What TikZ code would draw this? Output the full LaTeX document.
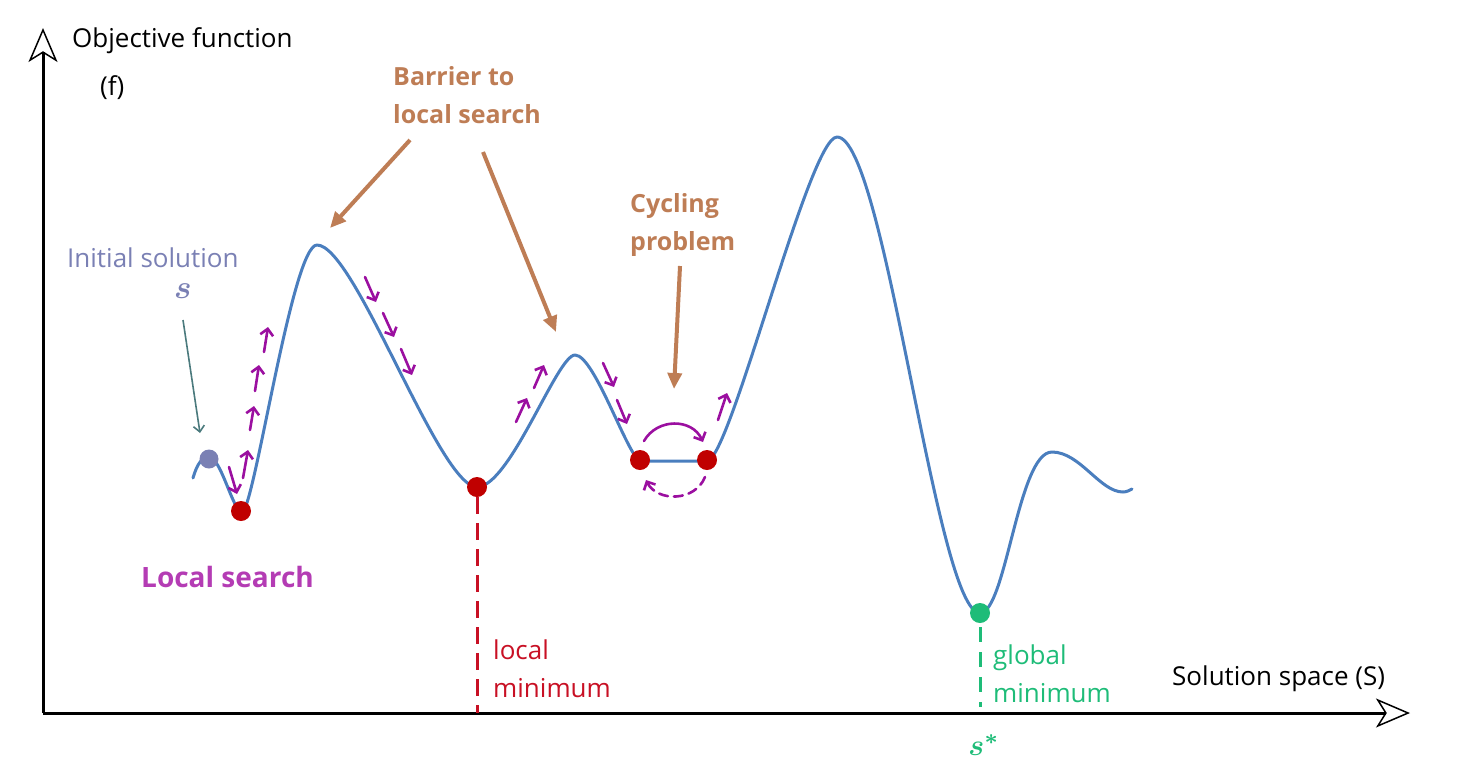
\documentclass[tikz,border=0pt]{standalone}
\usepackage{fontspec}
\setmainfont{Open Sans}
\usepackage{bm}
\usetikzlibrary{arrows.meta}
\definecolor{curveblue}{RGB}{74,126,190}
\definecolor{dotred}{RGB}{192,0,0}
\definecolor{txtred}{RGB}{200,16,36}
\definecolor{gmin}{RGB}{30,188,120}
\definecolor{brownish}{RGB}{190,125,85}
\definecolor{lspurple}{RGB}{155,15,160}
\definecolor{lstext}{RGB}{180,60,180}
\definecolor{initc}{RGB}{122,128,180}
\definecolor{initarrow}{RGB}{75,122,125}
\tikzset{
  curve/.style={line width=3pt, draw=curveblue, line cap=round, line join=round},
  dot/.style={circle, fill=#1, minimum size=20pt, inner sep=0pt},
  axis/.style={line width=3pt, -{Stealth[open, length=34pt, width=29pt, inset=9pt, line width=1.5pt]}},
  regtxt/.style={font=\fontsize{26}{38}\selectfont, inner sep=0pt, anchor=base west, align=left},
  boldtxt/.style={font=\fontsize{25}{38}\selectfont\bfseries, inner sep=0pt, align=left},
  mathlab/.style={inner sep=0pt, anchor=base},
  barrier/.style={draw=brownish, line width=4pt, -{Triangle[length=16pt, width=14pt]}},
  lsarrow/.style={draw=lspurple, line width=2.6pt, line cap=round, -{Straight Barb[length=6.5pt, width=13pt]}},
  reddash/.style={draw=txtred, line width=3pt, dash pattern=on 17pt off 9pt},
  greendash/.style={draw=gmin, line width=3pt, dash pattern=on 15pt off 10pt},
}
\begin{document}
\begin{tikzpicture}[x=1pt, y=-1pt]
\useasboundingbox (0,0) rectangle (1477,780);
% axes
\coordinate (O) at (43,713);
\coordinate (ytip) at (43,28);
\coordinate (xtip) at (1410,713);
\draw[axis] (O) -- (ytip);
\draw[axis] (O) -- (xtip);
\node[regtxt] (ylab) at (72,47) {Objective function};
\node[regtxt] (flab) at (100,95) {(f)};
\node[regtxt] (xlab) at (1172,685) {Solution space (S)};
% landscape
\draw[curve] (193,478) .. controls (197,464) and (202,457) .. (209,457)
  .. controls (221,457) and (233,512) .. (242,512)
  .. controls (254,512) and (292,245) .. (317,245)
  .. controls (355,245) and (439,487) .. (477,487)
  .. controls (510,487) and (557,355) .. (575,355)
  .. controls (595,355) and (629,461) .. (641,461)
  -- (707,461)
  .. controls (730,461) and (809,137) .. (837,137)
  .. controls (885,137) and (936,613) .. (980,613)
  .. controls (1006,613) and (1018,452) .. (1052,452)
  .. controls (1080,452) and (1100,492) .. (1123,492)
  .. controls (1127,492) and (1130,490) .. (1132,489);
% dashed minimum markers
\node[dot=dotred] (lmin) at (477,487) {};
\node[dot=gmin] (gminnode) at (980,613) {};
\coordinate (lminfoot) at (477,713);
\coordinate (gminfoot) at (980,707);
\draw[reddash] (lmin.south) -- (lminfoot);
\draw[greendash] ([yshift=-4pt]gminnode.south) -- (gminfoot);
% dots
\node[dot=initc, minimum size=19pt] (init) at (209,459) {};
\node[dot=dotred] (m1) at (241,511) {};
\node[dot=dotred] (c1) at (640,460) {};
\node[dot=dotred] (c2) at (707,460) {};
% labels
\node[regtxt, text=initc] (initlab) at (67,267) {Initial solution};
\node[mathlab, text=initc] (slab) at (183,298) {\scalebox{3.3}{$\bm{s}$}};
\node[mathlab, text=gmin] (sstar) at (984,755) {\scalebox{3}{$\bm{s}^{\bm{*}}$}};
\coordinate (initA) at (183,320);
\coordinate (initB) at (200,433);
\draw[draw=initarrow, line width=1.6pt, -{Straight Barb[length=6pt, width=11pt]}] (initA) -- (initB);
\node[font=\fontsize{28}{30}\selectfont\bfseries, text=lstext, inner sep=0pt, anchor=base west] (lslab) at (141,587) {Local search};
\node[regtxt, text=txtred] (lmlab) at (493,697) {local\\minimum};
\node[regtxt, text=gmin] (gmlab) at (993,702) {global\\minimum};
% barrier
\node[boldtxt, text=brownish, anchor=base west] (barlab) at (393,123) {Barrier to\\local search};
\coordinate (b1s) at (410,140);
\coordinate (b1e) at (330,228);
\coordinate (b2s) at (483,152);
\coordinate (b2e) at (556,332);
\draw[barrier] (b1s) -- (b1e);
\draw[barrier] (b2s) -- (b2e);
% cycling
\node[boldtxt, text=brownish, anchor=base west] (cyclab) at (630,250) {Cycling\\problem};
\coordinate (cys) at (680,266);
\coordinate (cye) at (674,389);
\draw[barrier] (cys) -- (cye);
% local search arrows
\foreach \i/\xa/\ya/\xb/\yb in {
 1/229/467/237/494,
 2/243/478/248/450,
 3/250/430/254/406,
 4/255/391/259/365,
 5/264/352/268/327,
 6/365/277/376/302,
 7/383/313/394/337,
 8/401/349/412/375,
 9/516/422/527/398,
 10/534/388/544/365,
 11/603/363/614/387,
 12/617/400/627/424,
 13/718/420/727/393}
{
  \coordinate (la\i) at (\xa,\ya);
  \coordinate (lb\i) at (\xb,\yb);
  \draw[lsarrow] (la\i) -- (lb\i);
}
% cycling loop
\coordinate (cyA) at (644,441);
\coordinate (cyB) at (703,442);
\coordinate (cyC) at (705,477);
\coordinate (cyD) at (646,480);
\draw[lsarrow] (cyA) .. controls (657,418) and (692,418) .. (cyB);
\draw[lsarrow, dash pattern=on 9pt off 6pt] (cyC) .. controls (695,502) and (657,502) .. (cyD);
\end{tikzpicture}
\end{document}
